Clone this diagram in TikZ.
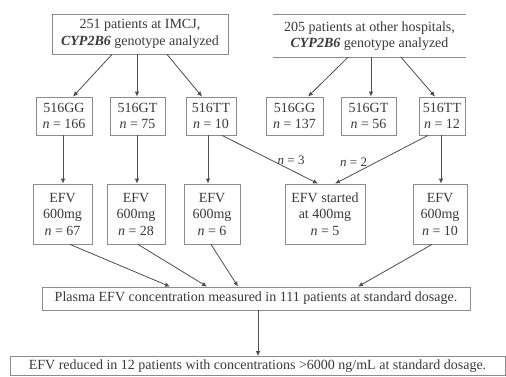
\documentclass[tikz,border=0pt]{standalone}
\usepackage{fontspec}
\setmainfont{Liberation Serif}
\usetikzlibrary{arrows.meta}
\definecolor{txt}{HTML}{3A3A3A}
\definecolor{ln}{HTML}{4E4E4E}
\definecolor{bd}{HTML}{8C8C8C}
\begin{document}
\begin{tikzpicture}[x=1pt,y=-1pt,
  every node/.style={text=txt, font=\fontsize{14}{16.5}\selectfont, inner sep=0pt, align=center},
  box/.style={draw=bd, line width=0.8pt, rectangle},
  openbox/.style={rectangle},
  arr/.style={draw=ln, line width=0.8pt, -{Latex[length=5pt,width=4.5pt]}},
  lab/.style={font=\fontsize{13}{15}\selectfont}]
\fill[white] (0,0) rectangle (506,376);
\useasboundingbox (0,0) rectangle (506,376);

% top boxes
\node[box, minimum width=176pt, minimum height=40pt] (tl) at (140,34) {251 patients at IMCJ,\\ \textbf{\textit{CYP2B6}} genotype analyzed};
\node[openbox, minimum width=193pt, minimum height=42pt] (tr) at (369.5,36) {205 patients at other hospitals,\\ \textbf{\textit{CYP2B6}} genotype analyzed};
\draw[bd, line width=0.8pt] (tr.north west) -- (tr.north east);
\draw[bd, line width=0.8pt] (tr.south west) -- (tr.south east);

% row 2
\node[box, minimum width=56pt, minimum height=38pt] (g1) at (64,116) {516GG\\ \textit{n} = 166};
\node[box, minimum width=55pt, minimum height=38pt] (t1) at (137.5,116) {516GT\\ \textit{n} = 75};
\node[box, minimum width=50pt, minimum height=38pt] (tt1) at (211,116) {516TT\\ \textit{n} = 10};
\node[box, minimum width=57pt, minimum height=38pt] (g2) at (294.5,116) {516GG\\ \textit{n} = 137};
\node[box, minimum width=55pt, minimum height=38pt] (t2) at (368.5,116) {516GT\\ \textit{n} = 56};
\node[box, minimum width=46pt, minimum height=38pt] (tt2) at (442,116) {516TT\\ \textit{n} = 12};

% row 3
\node[box, minimum width=59pt, minimum height=60pt] (e1) at (62.5,214) {EFV\\ 600mg\\ \textit{n} = 67};
\node[box, minimum width=58pt, minimum height=60pt] (e2) at (136,214) {EFV\\ 600mg\\ \textit{n} = 28};
\node[box, minimum width=56pt, minimum height=60pt] (e3) at (212,214) {EFV\\ 600mg\\ \textit{n} = 6};
\node[box, minimum width=80pt, minimum height=60pt] (es) at (325,214) {EFV started\\ at 400mg\\ \textit{n} = 5};
\node[box, minimum width=54pt, minimum height=60pt] (e4) at (440,214) {EFV\\ 600mg\\ \textit{n} = 10};

% plasma and final
\node[box, minimum width=428pt, minimum height=23pt] (pl) at (256,298.5) {Plasma EFV concentration measured in 111 patients at standard dosage.};
\node[box, minimum width=495pt, minimum height=19pt] (fi) at (257.5,366) {EFV reduced in 12 patients with concentrations >6000 ng/mL at standard dosage.};

% arrows top left
\draw[arr] ([xshift=-28pt]tl.south) -- ([xshift=9pt]g1.north);
\draw[arr] ([xshift=-3pt]tl.south) -- ([xshift=-0.5pt]t1.north);
\draw[arr] ([xshift=27pt]tl.south) -- ([xshift=-9pt]tt1.north);
% arrows top right
\draw[arr] ([xshift=-21.5pt]tr.south) -- ([xshift=13.5pt]g2.north);
\draw[arr] ([xshift=1.5pt]tr.south) -- ([xshift=2.5pt]t2.north);
\draw[arr] ([xshift=31.5pt]tr.south) -- ([xshift=-7pt]tt2.north);

% row2 -> row3
\draw[arr] ([xshift=-1pt]g1.south) -- ([xshift=0.5pt]e1.north);
\draw[arr] ([xshift=-0.5pt]t1.south) -- ([xshift=1pt]e2.north);
\draw[arr] ([xshift=-3pt]tt1.south) -- ([xshift=-4pt]e3.north);
\draw[arr] ([xshift=11pt]tt1.south) -- node[lab, pos=0.72, yshift=10pt] {\textit{n} = 3} ([xshift=-7pt]es.north);
\draw[arr] ([xshift=-14pt]tt2.south) -- node[lab, pos=0.80, yshift=12pt] {\textit{n} = 2} ([xshift=10pt]es.north);
\draw[arr] ([xshift=-1pt]tt2.south) -- ([xshift=1pt]e4.north);

% row3 -> plasma
\draw[arr] ([xshift=7.5pt]e1.south) -- ([xshift=-86pt]pl.north);
\draw[arr] ([xshift=2pt]e2.south) -- ([xshift=-49pt]pl.north);
\draw[arr] ([xshift=-1pt]e3.south) -- ([xshift=-18pt]pl.north);
\draw[arr] ([xshift=-8pt]e4.south) -- ([xshift=102pt]pl.north);

% plasma -> final
\draw[arr] ([xshift=2pt]pl.south) -- ([xshift=0.5pt]fi.north);
\end{tikzpicture}
\end{document}
